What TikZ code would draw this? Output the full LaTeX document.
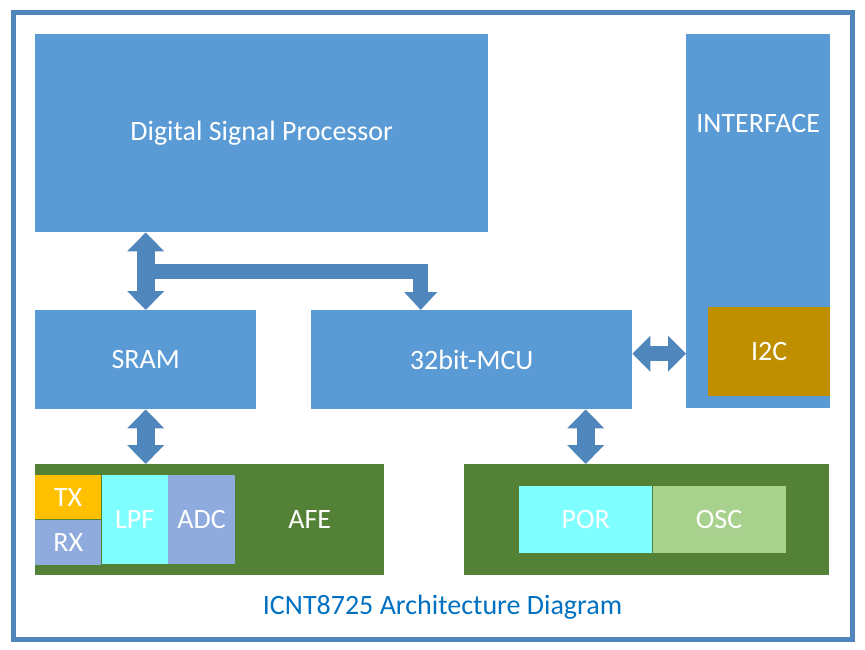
\documentclass[tikz,border=0pt]{standalone}
\usepackage{fontspec}
\setmainfont{Carlito}
\usetikzlibrary{arrows.meta,calc}

\definecolor{boxblue}{HTML}{5B9BD5}
\definecolor{arrowblue}{HTML}{4F87BC}
\definecolor{framecol}{HTML}{5086BC}
\definecolor{afegreen}{HTML}{538135}
\definecolor{i2cgold}{HTML}{BF8F00}
\definecolor{txyellow}{HTML}{FFC000}
\definecolor{rxblue}{HTML}{8FAADC}
\definecolor{lpfcyan}{HTML}{7FFFFF}
\definecolor{oscgreen}{HTML}{A9D18E}
\definecolor{titleblue}{HTML}{0070C0}

\tikzset{
  blk/.style={fill=boxblue, text=white, inner sep=0pt, anchor=north west,
    font=\fontsize{28}{32}\selectfont},
  lbl/.style={text=white, inner sep=0pt, font=\fontsize{28}{32}\selectfont},
  vdbl/.style={draw=arrowblue, line width=18pt,
    {Triangle[width=36pt,length=19pt]}-{Triangle[width=36pt,length=19pt]}},
  hdbl/.style={draw=arrowblue, line width=15pt,
    {Triangle[width=35pt,length=18pt]}-{Triangle[width=35pt,length=18pt]}},
  bus/.style={draw=arrowblue, line width=15pt, -{Triangle[width=32pt,length=18pt]}},
}

\begin{document}
\begin{tikzpicture}[x=1pt,y=-1pt]
  \useasboundingbox (0,0) rectangle (865,650);
  \draw[framecol, line width=5pt] (13,13) rectangle (852,639);

  % top row
  \node[blk, minimum width=453, minimum height=198] (dsp) at (35,34) {Digital Signal Processor};
  \node[blk, minimum width=144, minimum height=374] (iface) at (686,34) {};
  \node[lbl] (ifacetext) at ([yshift=-90pt]iface.north) {INTERFACE};
  \node[blk, fill=i2cgold, minimum width=122, minimum height=89] (i2c) at (708,307) {I2C};

  % middle row
  \node[blk, minimum width=221, minimum height=99] (sram) at (35,310) {SRAM};
  \node[blk, minimum width=321, minimum height=99] (mcu) at (311,310) {32bit-MCU};

  % analog front end
  \node[blk, fill=afegreen, minimum width=349, minimum height=111] (afe) at (35,464) {};
  \node[blk, fill=txyellow, minimum width=66, minimum height=44] (tx) at (35,475) {TX};
  \node[blk, fill=rxblue, minimum width=66, minimum height=45] (rx) at (tx.south west) {RX};
  \node[blk, fill=lpfcyan, minimum width=66, minimum height=89] (lpf) at (tx.north east) {LPF};
  \node[blk, fill=rxblue, minimum width=67, minimum height=89] (adc) at (lpf.north east) {ADC};
  \node[lbl] (afetext) at ($(adc.east)!0.5!(afe.east)$) {AFE};

  % por / osc
  \node[blk, fill=afegreen, minimum width=365, minimum height=111] (pwr) at (464,464) {};
  \node[blk, fill=lpfcyan, minimum width=133, minimum height=67] (por) at (519,486) {POR};
  \node[blk, fill=oscgreen, minimum width=133, minimum height=67] (osc) at (por.north east) {OSC};

  \node[text=titleblue, font=\fontsize{28}{32}\selectfont] (title) at (442.5,607) {ICNT8725 Architecture Diagram};

  % buses
  \draw[vdbl] (sram.north) -- (sram.north |- dsp.south);
  \coordinate (tee) at ($(sram.north)!0.5!(sram.north |- dsp.south)$);
  \coordinate (mcuin) at ([xshift=-51pt]mcu.north);
  \draw[bus] (tee) -| (mcuin);
  \draw[hdbl] ([yshift=6pt]mcu.east) -- ([yshift=6pt]mcu.east -| iface.west);
  \draw[vdbl] (sram.south) -- (sram.south |- afe.north);
  \draw[vdbl] (por.north |- mcu.south) -- (por.north |- pwr.north);
\end{tikzpicture}
\end{document}
